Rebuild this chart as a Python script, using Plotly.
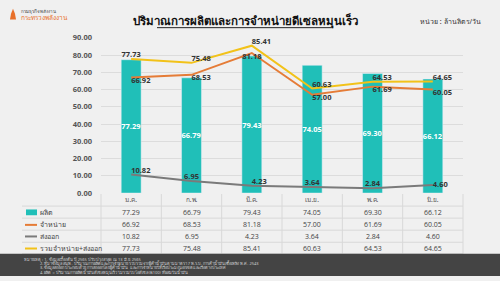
import plotly.graph_objects as go

months = ["ม.ค.", "ก.พ.", "มี.ค.", "เม.ย.", "พ.ค.", "มิ.ย."]
production = [77.29, 66.79, 79.43, 74.05, 69.30, 66.12]
sales = [66.92, 68.53, 81.18, 57.00, 61.69, 60.05]
export = [10.82, 6.95, 4.23, 3.64, 2.84, 4.60]
total = [77.73, 75.48, 85.41, 60.63, 64.53, 64.65]

series_names = ["ผลิต", "จำหน่าย", "ส่งออก", "รวมจำหน่าย+ส่งออก"]
series_values = [production, sales, export, total]
y_ticks = [0, 10, 20, 30, 40, 50, 60, 70, 80, 90]

title = "ปริมาณการผลิตและการจำหน่ายดีเซลหมุนเร็ว"
unit = "หน่วย : ล้านลิตร/วัน"
notes = [
    "หมายเหตุ : 1. ข้อมูลเบื้องต้น ปี 2565 ปรับปรุงล่าสุด ณ 13 มิ.ย. 2565",
    "2. ที่มาข้อมูล สนพ. ปริมาณการผลิตและการจำหน่าย รวบรวมจากผู้ค้าน้ำมันตามมาตรา 7 พ.ร.บ. การค้าน้ำมันเชื้อเพลิง พ.ศ. 2543",
    "3. ข้อมูลส่งออก ประกอบด้วย การส่งออกโดยผู้ค้าน้ำมัน และการจำหน่ายให้เรือประมงนอกเขตและเรือต่างประเทศ",
    "4. ผลิต = ปริมาณการผลิตน้ำมันดีเซลหมุนเร็ว ไม่รวมไบโอดีเซล (B100) ที่ผสมในน้ำมัน",
]

W, H = 500, 281
def px(x): return x / W
def py(y): return 1 - y / H

TEAL = "#20bfb8"
ORANGE = "#e57c37"
GREY = "#7a7a7a"
YELLOW = "#f2c219"
TXT = "#404040"
FONT = "Noto Sans, Open Sans, sans-serif"
NUMFONT = "Open Sans, sans-serif"

fig = go.Figure()

fig.add_trace(go.Bar(
    x=months, y=production, marker_color=TEAL, width=0.33,
    text=[f"<b>{v:.2f}</b>" for v in production], textposition="inside", textangle=0,
    insidetextanchor="middle", constraintext="none",
    textfont=dict(color="white", size=7.5, family=NUMFONT),
    name=series_names[0],
))

pos_total = ["top center", "top right", "top right", "top right", "top right", "top right"]
pos_sales = ["bottom right", "bottom right", "bottom center", "bottom right", "bottom right", "bottom right"]
pos_export = ["top right", "top center", "top right", "top center", "top center", "middle right"]

for vals, color, pos, name in [
    (sales, ORANGE, pos_sales, series_names[1]),
    (export, GREY, pos_export, series_names[2]),
    (total, YELLOW, pos_total, series_names[3]),
]:
    fig.add_trace(go.Scatter(
        x=months, y=vals, mode="lines+text", line=dict(color=color, width=2),
        text=[f"<b>{v:.2f}</b>" for v in vals], textposition=pos,
        textfont=dict(color="#333333", size=7.5, family=NUMFONT),
        name=name, cliponaxis=False,
    ))

fig.update_layout(
    width=W, height=H, margin=dict(l=0, r=0, t=0, b=0),
    paper_bgcolor="#f0f0f0", plot_bgcolor="#f0f0f0",
    showlegend=False,
    font=dict(family=FONT, color=TXT),
    xaxis=dict(domain=[px(101), px(463)], range=[-0.5, 5.5], showgrid=False,
               showline=False, zeroline=False, ticks="",
               tickfont=dict(size=6.5, color="#555555"), ticklabelstandoff=1),
    yaxis=dict(domain=[py(195), py(34)], range=[0, 90], tickvals=y_ticks,
               ticktext=[f"<b>{v:.2f}</b>" for v in y_ticks],
               showgrid=True, gridcolor="#dcdcdc", gridwidth=1,
               zeroline=False, showline=False, ticks="",
               tickfont=dict(size=7.5, color="#555555", family=NUMFONT),
               ticklabelstandoff=8),
)

shapes = []
row_y = [196, 208.5, 221, 233.5, 246, 258]
for y in row_y[1:]:
    shapes.append(dict(type="line", xref="paper", yref="paper", x0=px(22), x1=px(463),
                       y0=py(y), y1=py(y), line=dict(color="#d8d8d8", width=1)))
for i in range(7):
    x = 101 + i * (463 - 101) / 6
    shapes.append(dict(type="line", xref="paper", yref="paper", x0=px(x), x1=px(x),
                       y0=py(196), y1=py(258), line=dict(color="#d8d8d8", width=1)))
shapes.append(dict(type="rect", xref="paper", yref="paper", x0=0, x1=1, y0=0, y1=py(258),
                   fillcolor="#444444", line=dict(width=0)))
row_centers = [215, 228, 240, 252.5]
shapes.append(dict(type="rect", xref="paper", yref="paper", x0=px(26), x1=px(37),
                   y0=py(218), y1=py(212), fillcolor=TEAL, line=dict(width=0)))
for yc, c in zip(row_centers[1:], [ORANGE, GREY, YELLOW]):
    shapes.append(dict(type="line", xref="paper", yref="paper", x0=px(25), x1=px(37),
                       y0=py(yc), y1=py(yc), line=dict(color=c, width=2)))
shapes.append(dict(type="line", xref="paper", yref="paper", x0=px(157), x1=px(333),
                   y0=py(23.5), y1=py(23.5), line=dict(color="#222222", width=1)))
shapes.append(dict(type="path", xref="paper", yref="paper",
                   path=f"M {px(10)},{py(15)} L {px(16)},{py(15)} L {px(15)},{py(9)} L {px(13)},{py(4)} L {px(11)},{py(9)} Z",
                   fillcolor="#e8702a", line=dict(width=0)))
fig.update_layout(shapes=shapes)

ann = []
ann.append(dict(text=f"<b>{title}</b>", x=px(245), y=py(17), xref="paper", yref="paper",
                showarrow=False, font=dict(size=11.5, color="#111111"), xanchor="center", yanchor="middle"))
ann.append(dict(text=unit, x=px(483), y=py(17), xref="paper", yref="paper", showarrow=False,
                font=dict(size=7, color="#333333"), xanchor="right", yanchor="middle"))
ann.append(dict(text="กรมธุรกิจพลังงาน", x=px(19), y=py(7), xref="paper", yref="paper", showarrow=False,
                font=dict(size=4.5, color="#444444"), xanchor="left", yanchor="middle"))
ann.append(dict(text="กระทรวงพลังงาน", x=px(19), y=py(13), xref="paper", yref="paper", showarrow=False,
                font=dict(size=6.5, color="#e8702a"), xanchor="left", yanchor="middle"))
for name, vals, yc in zip(series_names, series_values, row_centers):
    ann.append(dict(text=name, x=px(38), y=py(yc), xref="paper", yref="paper", showarrow=False,
                    font=dict(size=7, color="#444444"), xanchor="left", yanchor="middle"))
    for m, v in zip(months, vals):
        ann.append(dict(text=f"{v:.2f}", x=m, y=py(yc), xref="x", yref="paper", showarrow=False,
                        font=dict(size=7, color="#444444", family=NUMFONT), xanchor="center", yanchor="middle"))
note_y = [263, 267.5, 272, 276.5]
for i, (t, yy) in enumerate(zip(notes, note_y)):
    ann.append(dict(text=t, x=px(22 if i == 0 else 38), y=py(yy), xref="paper", yref="paper",
                    showarrow=False, font=dict(size=4, color="#cfcfcf"), xanchor="left", yanchor="middle"))
fig.update_layout(annotations=ann)

fig.write_html("out.html")
